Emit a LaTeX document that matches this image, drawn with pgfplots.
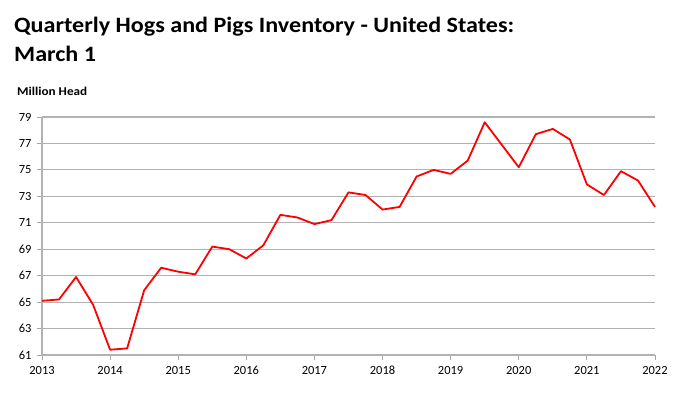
\documentclass[border=0pt]{standalone}
\usepackage{fontspec}
\setmainfont{Carlito}
\newfontfamily\widefont[FakeStretch=1.1]{Carlito}
\usepackage{pgfplots}
\pgfplotsset{compat=1.18}
\begin{document}
\begin{tikzpicture}[x=1bp,y=1bp]
\useasboundingbox (0,0) rectangle (682,396);
\node[anchor=base west, inner sep=0pt, font=\widefont\fontsize{22}{26}\selectfont\bfseries] at (14,363.3) {Quarterly Hogs and Pigs Inventory - United States:};
\node[anchor=base west, inner sep=0pt, font=\widefont\fontsize{22}{26}\selectfont\bfseries] at (14,334.3) {March 1};
\node[anchor=base west, inner sep=0pt, font=\widefont\fontsize{12}{14}\selectfont\bfseries] at (17,301) {Million Head};
\begin{axis}[
  at={(42bp,41bp)}, anchor=south west,
  scale only axis, width=613bp, height=238bp,
  xmin=2013, xmax=2022, ymin=61, ymax=79,
  ytick={61,63,...,79},
  xtick={2013,2014,...,2022},
  minor x tick num=3,
  /pgf/number format/1000 sep={},
  /pgf/number format/assume math mode=true,
  ymajorgrids,
  major grid style={draw=black!30, line width=1.2pt},
  axis x line*=bottom, axis y line*=left,
  axis line style={draw=black!30, line width=1.2pt},
  tick style={draw=black!35, line width=0.8pt},
  tick align=outside,
  major tick length=5bp, minor tick length=5bp,
  xticklabel style={font=\fontsize{12.5}{12}\selectfont, text height=9bp, text depth=0bp, yshift=-2bp},
  yticklabel style={font=\fontsize{12.5}{12}\selectfont, xshift=-2bp},
  clip=false,
]
\addplot[color=red, line width=1.8pt, line join=round] table {
x y
2013.00 65.1
2013.25 65.2
2013.50 66.9
2013.75 64.8
2014.00 61.4
2014.25 61.5
2014.50 65.9
2014.75 67.6
2015.00 67.3
2015.25 67.1
2015.50 69.2
2015.75 69.0
2016.00 68.3
2016.25 69.3
2016.50 71.6
2016.75 71.4
2017.00 70.9
2017.25 71.2
2017.50 73.3
2017.75 73.1
2018.00 72.0
2018.25 72.2
2018.50 74.5
2018.75 75.0
2019.00 74.7
2019.25 75.7
2019.50 78.6
2019.75 76.9
2020.00 75.2
2020.25 77.7
2020.50 78.1
2020.75 77.3
2021.00 73.9
2021.25 73.1
2021.50 74.9
2021.75 74.2
2022.00 72.2
};
\end{axis}
\end{tikzpicture}
\end{document}
